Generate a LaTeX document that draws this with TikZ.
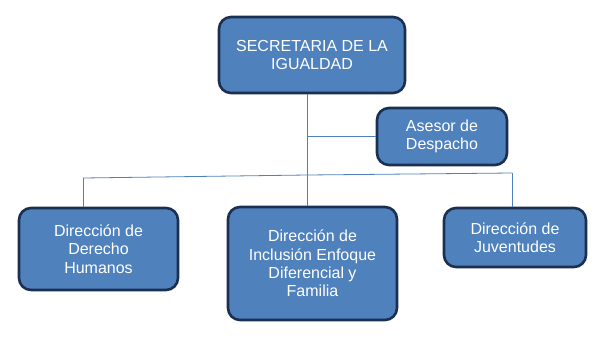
\documentclass[tikz,border=0pt]{standalone}
\usepackage{fontspec}
\setmainfont{Liberation Sans}
\usepackage{xcolor}
\usetikzlibrary{positioning,calc}
\definecolor{cajaazul}{HTML}{4F81BD}
\definecolor{bordeazul}{HTML}{1B3050}
\definecolor{lineaazul}{HTML}{4F81BD}

\begin{document}
\begin{tikzpicture}[x=1pt, y=-1pt,
    every node/.style={font=\fontsize{16}{18.3}\selectfont, text=white},
    unidad/.style={draw=bordeazul, fill=cajaazul, line width=2.6pt, rounded corners=12pt, align=center, inner sep=0pt},
    enlace/.style={draw=lineaazul, line width=0.8pt}]
    \useasboundingbox (0,0) rectangle (615,349);
    \node[unidad, minimum width=186pt, minimum height=76pt] (sec) at (312,55) {SECRETARIA DE LA\\IGUALDAD};
    \node[unidad, minimum width=130pt, minimum height=57pt] (asesor) at (442,136.5) {Asesor de\\Despacho};
    \node[unidad, minimum width=159pt, minimum height=82pt] (ddh) at (98.5,249) {Dirección de\\Derecho\\Humanos};
    \node[unidad, minimum width=169pt, minimum height=113pt] (dinc) at (312.5,263.5) {Dirección de\\Inclusión Enfoque\\Diferencial y\\Familia};
    \node[unidad, minimum width=142pt, minimum height=59pt] (djuv) at (515,237.5) {Dirección de\\Juventudes};
    \coordinate (bizq) at (83,178);
    \coordinate (bcen) at (307,175);
    \coordinate (bder) at (512,173);
    \draw[enlace] (bcen |- sec.south) -- (bcen |- dinc.north);
    \draw[enlace] (bcen |- asesor.west) -- (asesor.west);
    \draw[enlace] (bizq) -- (bcen) -- (bder);
    \draw[enlace] (bizq) -- (bizq |- ddh.north);
    \draw[enlace] (bder) -- (bder |- djuv.north);
  \end{tikzpicture}
\end{document}
